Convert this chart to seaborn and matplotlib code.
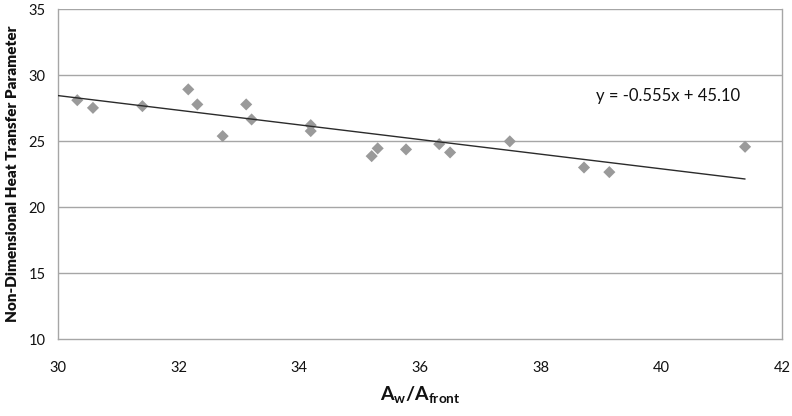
import numpy as np
import pandas as pd
import seaborn as sns
import matplotlib.pyplot as plt

# area ratio A_w/A_front and non-dimensional heat transfer parameter
area_ratio = [30.32, 30.58, 31.40, 32.16, 32.31, 32.73, 33.12, 33.21, 34.19, 34.19,
              35.20, 35.30, 35.77, 36.32, 36.50, 37.49, 38.72, 39.14, 41.39]
heat_param = [28.10, 27.52, 27.65, 28.92, 27.78, 25.38, 27.78, 26.64, 26.21, 25.76,
              23.86, 24.45, 24.37, 24.77, 24.14, 24.98, 23.00, 22.65, 24.57]

slope = -0.555
intercept = 45.10
fit_x = [30.0, 41.39]

sns.set_style("white")
plt.rcParams['font.family'] = ['Lato', 'DejaVu Sans']
plt.rcParams['mathtext.fontset'] = 'custom'
plt.rcParams['mathtext.rm'] = 'Lato'
plt.rcParams['mathtext.bf'] = 'Lato:bold'

df = pd.DataFrame({"x": area_ratio, "y": heat_param})
fit = pd.DataFrame({"x": fit_x, "y": [slope * v + intercept for v in fit_x]})

fig = plt.figure(figsize=(7.92, 4.16), dpi=100)
ax = fig.add_axes([0.0732, 0.185, 0.914, 0.793])

grey = "#a6a6a6"
txt = "#111111"
for yv in [15, 20, 25, 30, 35]:
    ax.axhline(yv, color=grey, lw=1.0, zorder=0)

sns.scatterplot(data=df, x="x", y="y", marker="D", s=38, color="#9a9a9a",
                edgecolor="none", ax=ax, zorder=2)
sns.lineplot(data=fit, x="x", y="y", color="#2b2b2b", lw=1.0, ax=ax, zorder=3)

ax.set_xlim(30, 42)
ax.set_ylim(10, 35)
ax.set_xticks(np.arange(30, 43, 2))
ax.set_yticks(np.arange(10, 36, 5))
ax.tick_params(axis="both", labelsize=10.5, length=4, width=1, color=grey,
               direction="out", labelcolor=txt)
ax.tick_params(axis="x", pad=12)
ax.tick_params(axis="y", pad=5)

for side in ["left", "bottom", "right"]:
    ax.spines[side].set_color(grey)
    ax.spines[side].set_linewidth(1.0)
ax.spines["top"].set_visible(False)

ax.set_xlabel(r"$\mathbf{A_{w}/A_{front}}$", fontsize=14, labelpad=6, color=txt)
ax.set_ylabel("Non-Dimensional Heat Transfer Parameter", fontsize=11,
              fontweight="heavy", labelpad=7, color=txt)

ax.text(38.92, 28.45, "y = -0.555x + 45.10", fontsize=12, color=txt,
        va="center", ha="left")

fig.savefig("out.png", dpi=100)
